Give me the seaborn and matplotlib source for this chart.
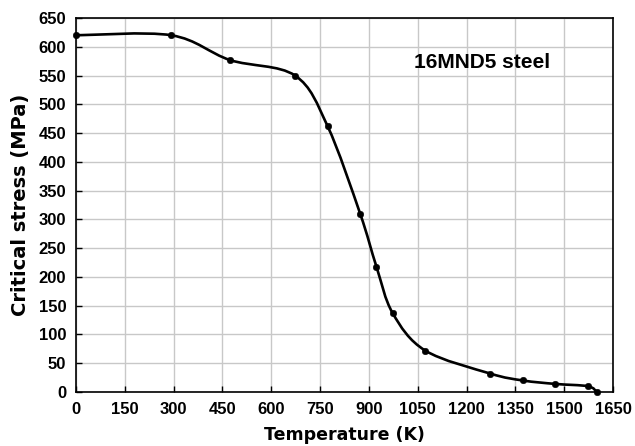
import numpy as np
import pandas as pd
import matplotlib
matplotlib.use('Agg')
import matplotlib.pyplot as plt
from matplotlib.path import Path
from matplotlib.patches import PathPatch
import seaborn as sns

# 16MND5 steel critical stress vs temperature
temperature = [0, 293, 473, 673, 773, 873, 923, 973, 1073, 1273, 1373, 1473, 1573, 1600]
critical_stress = [620, 620, 577, 550, 462, 310, 218, 137, 72, 32, 20, 14, 10, 0]
x_ticks = list(range(0, 1651, 150))
y_ticks = list(range(0, 651, 50))

df = pd.DataFrame({'T': temperature, 'S': critical_stress})

sns.set_style('whitegrid', {'grid.color': '#c8c8c8', 'axes.edgecolor': 'black'})
plt.rcParams['font.family'] = ['Liberation Sans', 'DejaVu Sans']
plt.rcParams['font.weight'] = 'bold'
plt.rcParams['text.color'] = 'black'

fig = plt.figure(figsize=(6.35, 4.46), dpi=100)
ax = fig.add_axes([0.1197, 0.1211, 0.8457, 0.8385])


def smooth_path(xs, ys):
    # excel-like smoothed line: cubic bezier through the points
    pts = np.column_stack([xs, ys]).astype(float)
    n = len(pts)
    verts = [pts[0]]
    codes = [Path.MOVETO]
    for i in range(n - 1):
        p_prev = pts[i - 1] if i > 0 else pts[i]
        p_next2 = pts[i + 2] if i + 2 < n else pts[i + 1]
        c1 = pts[i] + (pts[i + 1] - p_prev) / 6.0
        c2 = pts[i + 1] - (p_next2 - pts[i]) / 6.0
        verts += [c1, c2, pts[i + 1]]
        codes += [Path.CURVE4] * 3
    return Path(verts, codes)


ax.add_patch(PathPatch(smooth_path(df['T'], df['S']), facecolor='none',
                       edgecolor='black', lw=1.9, zorder=3, clip_on=False))
sns.scatterplot(data=df, x='T', y='S', ax=ax, color='black', s=22,
                edgecolor='black', zorder=4, legend=False, clip_on=False)

ax.set_xlim(0, 1650)
ax.set_ylim(0, 650)
ax.set_xticks(x_ticks)
ax.set_yticks(y_ticks)
ax.grid(True, color='#c8c8c8', lw=1)
ax.tick_params(direction='in', length=4, width=1, labelsize=12, colors='black',
               bottom=True, left=True, pad=7)
for lab in ax.get_xticklabels() + ax.get_yticklabels():
    lab.set_fontweight('bold')
for sp in ax.spines.values():
    sp.set_color('black')
    sp.set_linewidth(1.2)

ax.set_xlabel('Temperature (K)', fontsize=12.5, fontweight='bold', labelpad=7,
              family=['DejaVu Sans'], color='black')
ax.set_ylabel('Critical stress (MPa)', fontsize=14, fontweight='bold', labelpad=6,
              family=['DejaVu Sans'], color='black')
ax.text(1248, 573, '16MND5 steel', fontsize=15, fontweight='bold',
        ha='center', va='center', color='black')

fig.savefig('out.png', dpi=100)
